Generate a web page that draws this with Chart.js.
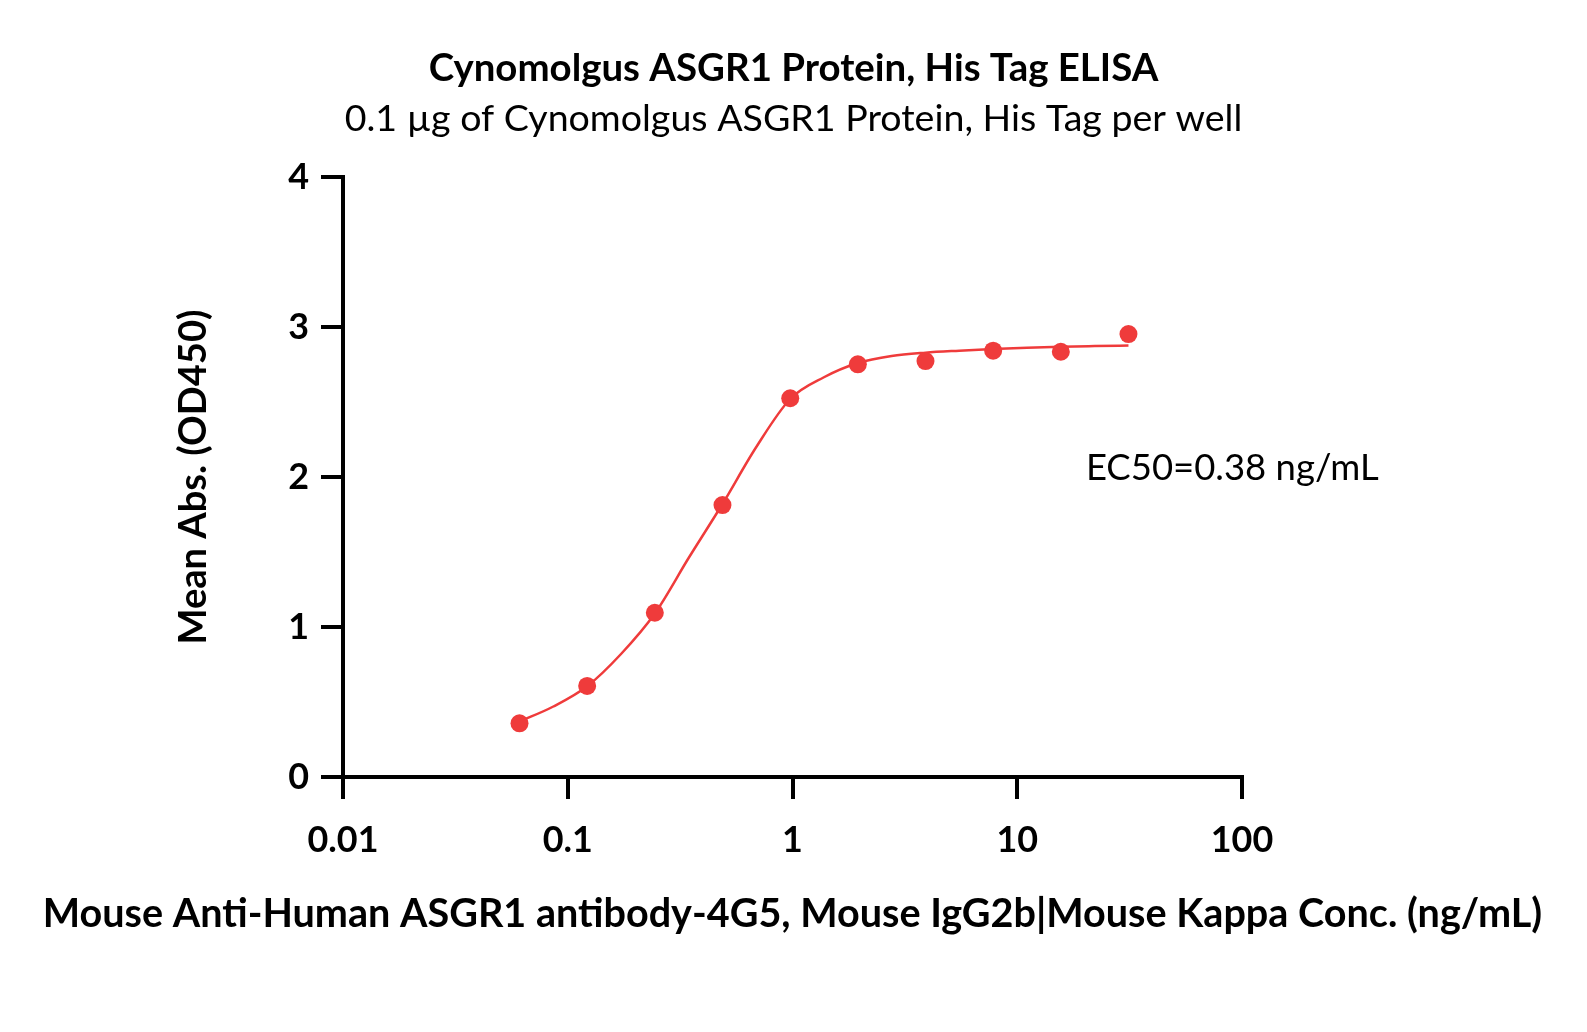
<!DOCTYPE html>
<html>
<head>
<meta charset="utf-8">
<script src="https://cdn.jsdelivr.net/npm/chart.js@4.4.1/dist/chart.umd.min.js"></script>
<style>
  html, body { margin: 0; padding: 0; background: #fff; }
  #wrap { width: 1587px; height: 1032px; }
</style>
</head>
<body>
<div id="wrap"><canvas id="elisa"></canvas></div>
<script>
// measured points (ng/mL vs OD450)
const conc = [0.061, 0.122, 0.244, 0.488, 0.977, 1.953, 3.906, 7.813, 15.63, 31.25];
const od = [0.358, 0.607, 1.095, 1.813, 2.525, 2.751, 2.773, 2.842, 2.835, 2.953];

// fitted curve
const fitX = [0.061, 0.0863, 0.122, 0.1726, 0.244, 0.345, 0.488, 0.69, 0.977, 1.38, 1.953, 2.76, 3.906, 5.52, 7.81, 11.05, 15.63, 22.1, 31.25];
const fitY = [0.37, 0.47, 0.605, 0.82, 1.09, 1.46, 1.82, 2.2, 2.52, 2.665, 2.76, 2.807, 2.829, 2.842, 2.853, 2.862, 2.869, 2.873, 2.876];

const xTicks = [0.01, 0.1, 1, 10, 100];
const xTickLabels = ["0.01", "0.1", "1", "10", "100"];
const yTicks = [0, 1, 2, 3, 4];

const titleText = "Cynomolgus ASGR1 Protein, His Tag ELISA";
const subText = "0.1 µg of Cynomolgus ASGR1 Protein, His Tag per well";
const xTitle = "Mouse Anti-Human ASGR1 antibody-4G5, Mouse IgG2b|Mouse Kappa Conc. (ng/mL)";
const yTitle = "Mean Abs. (OD450)";
const ec50Text = "EC50=0.38 ng/mL";

const red = "#EF3B3B";
const fam = "Lato, 'Open Sans', sans-serif";

// pick a font size so the text gets the width it has in the picture
function fit(text, weight, width) {
  const c = document.createElement("canvas").getContext("2d");
  c.font = weight + " 100px " + fam;
  return 100 * width / c.measureText(text).width;
}
const tSize = fit(titleText, "bold", 730);
const sSize = fit(subText, "normal", 898);
const xtSize = fit(xTitle, "bold", 1500);
const ytSize = fit(yTitle, "bold", 335);
const ecSize = fit(ec50Text, "normal", 293);
const tickSize = fit("0.01", "bold", 71);

// EC50 note and the x title (wider than the plot, so drawn here)
const extraText = {
  id: "extraText",
  afterDraw(chart) {
    const ctx = chart.ctx;
    const area = chart.chartArea;
    ctx.save();
    ctx.fillStyle = "#000";
    ctx.textBaseline = "middle";
    ctx.font = "normal " + ecSize + "px " + fam;
    ctx.textAlign = "left";
    ctx.fillText(ec50Text, chart.scales.x.getPixelForValue(20.2), chart.scales.y.getPixelForValue(2.06));
    ctx.font = "bold " + xtSize + "px " + fam;
    ctx.textAlign = "center";
    ctx.fillText(xTitle, (area.left + area.right) / 2, 914);
    ctx.restore();
  }
};

new Chart("elisa", {
  type: "line",
  data: {
    datasets: [{
      data: conc.map((v, i) => ({x: v, y: od[i]})),
      showLine: false,
      pointRadius: 9,
      pointHoverRadius: 9,
      pointBackgroundColor: red,
      pointBorderWidth: 0,
      clip: false
    }, {
      data: fitX.map((v, i) => ({x: v, y: fitY[i]})),
      borderColor: red,
      borderWidth: 2.5,
      pointRadius: 0,
      cubicInterpolationMode: "monotone",
      fill: false,
      clip: false
    }]
  },
  options: {
    responsive: true,
    maintainAspectRatio: false,
    animation: false,
    events: [],
    layout: { padding: 0 },
    plugins: {
      legend: { display: false },
      tooltip: { enabled: false },
      title: {
        display: true,
        text: titleText,
        color: "#000",
        font: { family: fam, size: tSize, weight: "bold", lineHeight: 1 },
        padding: { top: 69 - tSize / 2, bottom: 119 - sSize / 2 - 69 - tSize / 2 }
      },
      subtitle: {
        display: true,
        text: subText,
        color: "#000",
        font: { family: fam, size: sSize, weight: "normal", lineHeight: 1 },
        padding: { top: 0, bottom: 177 - 119 - sSize / 2 }
      }
    },
    scales: {
      x: {
        type: "logarithmic",
        min: 0.01,
        max: 100,
        afterBuildTicks: s => { s.ticks = xTicks.map(v => ({value: v})); },
        afterFit: s => { s.height = 255; },
        ticks: {
          color: "#000",
          padding: 20,
          autoSkip: false,
          maxRotation: 0,
          font: { family: fam, size: tickSize, weight: "bold" },
          callback: v => xTickLabels[xTicks.indexOf(v)]
        },
        grid: { drawOnChartArea: false, tickLength: 22, lineWidth: 4, color: "#000" },
        border: { width: 4, color: "#000" }
      },
      y: {
        min: 0,
        max: 4,
        afterBuildTicks: s => { s.ticks = yTicks.map(v => ({value: v})); },
        afterFit: s => { s.width = 343; },
        ticks: {
          color: "#000",
          padding: 12,
          font: { family: fam, size: tickSize, weight: "bold" }
        },
        grid: { drawOnChartArea: false, tickLength: 22, lineWidth: 4, color: "#000" },
        border: { width: 4, color: "#000" },
        title: {
          display: true,
          text: yTitle,
          color: "#000",
          font: { family: fam, size: ytSize, weight: "bold", lineHeight: 1 },
          padding: { top: 194 - ytSize / 2, bottom: 0 }
        }
      },
      // empty right-hand box that keeps the plot at its width
      spacer: {
        position: "right",
        afterFit: s => { s.width = 345; },
        ticks: { display: false },
        grid: { display: false },
        border: { display: false }
      }
    }
  },
  plugins: [extraText]
});
</script>
</body>
</html>
